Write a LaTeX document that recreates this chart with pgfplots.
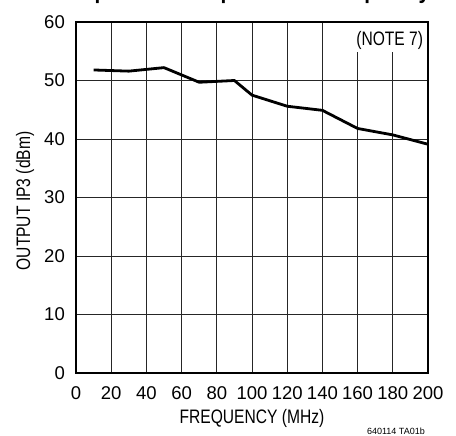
\documentclass[border=0pt]{standalone}
\usepackage{fontspec}
\setmainfont{Liberation Sans}
\newfontfamily\condfont[FakeStretch=0.8]{Liberation Sans}
\newfontfamily\condbold[FakeStretch=0.85]{Liberation Sans Bold}
\usepackage{pgfplots}
\pgfplotsset{compat=1.18}
\begin{document}
\begin{tikzpicture}
\begin{axis}[
  at={(0,0)}, anchor=south west,
  scale only axis,
  width=352pt, height=351pt,
  xmin=0, xmax=200, ymin=0, ymax=60,
  xtick={0,20,...,200}, ytick={0,10,...,60},
  major tick length=0pt,
  grid=major,
  major grid style={black!85, line width=0.9pt},
  axis line style={black, line width=1.6pt},
  /pgf/number format/assume math mode=true,
  tick label style={font=\fontsize{18.5}{20}\selectfont, inner sep=0pt},
  xticklabel style={anchor=north, yshift=-13pt},
  yticklabel style={anchor=east, xshift=-11pt},
  xlabel={FREQUENCY (MHz)},
  ylabel={OUTPUT IP3 (dBm)},
  label style={font=\condfont\fontsize{19.5}{21}\selectfont, inner sep=0pt},
  xlabel style={at={(axis description cs:0.5,-0.1425)}, anchor=base},
  ylabel style={at={(axis description cs:-0.145,0.49)}, anchor=center},
  clip=false,
]
\addplot[black, line width=2.8pt, line join=round] coordinates {
  (10,51.8) (30,51.6) (50,52.2) (70,49.7) (90,50.0) (100,47.5)
  (120,45.6) (140,44.9) (160,41.8) (180,40.7) (200,39.1)
};
\fill[white] (axis cs:157.5,60) rectangle (axis cs:200,54.9);
\draw[black, line width=1.6pt] (rel axis cs:0,0) rectangle (rel axis cs:1,1);
\node[anchor=east, inner sep=0pt, font=\condfont\fontsize{19.5}{21}\selectfont] at (axis cs:197.3,56.9) {(NOTE 7)};
\node[anchor=base, inner sep=0pt, font=\condbold\fontsize{24.5}{26}\selectfont] at ([yshift=23.5pt]rel axis cs:0.5,1) {Equivalent Output IP3 vs Frequency};
\node[anchor=base east, inner sep=0pt, font=\fontsize{9}{10}\selectfont] at (axis description cs:0.9915,-0.1766) {640114 TA01b};
\end{axis}
\pgfresetboundingbox
\useasboundingbox (-76pt,-63pt) rectangle (380pt,373pt);
\end{tikzpicture}
\end{document}
